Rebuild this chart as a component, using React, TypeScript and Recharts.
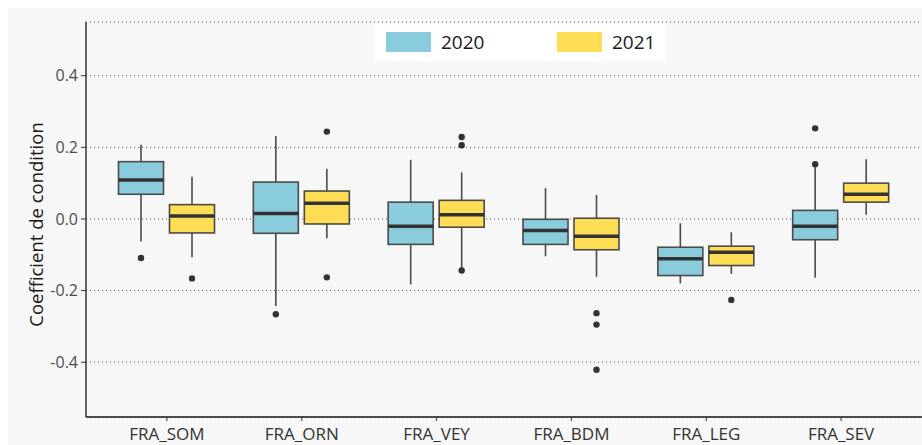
import React from 'react';
import { BarChart, Bar, XAxis, YAxis, CartesianGrid, Legend } from 'recharts';

const categories = ['FRA_SOM', 'FRA_ORN', 'FRA_VEY', 'FRA_BDM', 'FRA_LEG', 'FRA_SEV'];
const years = ['2020', '2021'];
const yTicks = [-0.4, -0.2, 0, 0.2, 0.4];

const min2020 = [-0.063, -0.243, -0.183, -0.104, -0.180, -0.164];
const q1_2020 = [0.069, -0.040, -0.071, -0.071, -0.158, -0.058];
const med2020 = [0.109, 0.015, -0.020, -0.032, -0.111, -0.020];
const q3_2020 = [0.160, 0.103, 0.047, -0.001, -0.079, 0.024];
const max2020 = [0.207, 0.232, 0.165, 0.086, -0.012, 0.150];
const out2020 = [[-0.109], [-0.266], [], [], [], [0.253, 0.153]];

const min2021 = [-0.107, -0.054, -0.138, -0.161, -0.153, 0.012];
const q1_2021 = [-0.039, -0.014, -0.023, -0.086, -0.130, 0.047];
const med2021 = [0.008, 0.044, 0.012, -0.048, -0.093, 0.069];
const q3_2021 = [0.040, 0.078, 0.052, 0.002, -0.076, 0.100];
const max2021 = [0.118, 0.140, 0.130, 0.067, -0.037, 0.167];
const out2021 = [[-0.166], [0.244, -0.163], [0.229, 0.206, -0.144], [-0.263, -0.295, -0.421], [-0.226], []];

const COLORS: Record<string, string> = { '2020': '#89CDDC', '2021': '#FFDD55' };

const data = categories.map((name, i) => ({
  name,
  r2020: [min2020[i], max2020[i]],
  s2020: { min: min2020[i], q1: q1_2020[i], med: med2020[i], q3: q3_2020[i], max: max2020[i], out: out2020[i] },
  r2021: [min2021[i], max2021[i]],
  s2021: { min: min2021[i], q1: q1_2021[i], med: med2021[i], q3: q3_2021[i], max: max2021[i], out: out2021[i] },
}));

const makeShape = (year: string) => (props: any) => {
  const { x, y, width, height, payload } = props;
  const s = payload[`s${year}`];
  const span = s.max - s.min;
  const py = (v: number) => y + ((s.max - v) / span) * height;
  const cx = x + width / 2;
  return (
    <g>
      <line x1={cx} x2={cx} y1={py(s.max)} y2={py(s.q3)} stroke="#4a4a4a" strokeWidth={1.6} />
      <line x1={cx} x2={cx} y1={py(s.q1)} y2={py(s.min)} stroke="#4a4a4a" strokeWidth={1.6} />
      <rect x={x} y={py(s.q3)} width={width} height={py(s.q1) - py(s.q3)} fill={COLORS[year]} stroke="#4a4a4a" strokeWidth={1.6} />
      <line x1={x} x2={x + width} y1={py(s.med)} y2={py(s.med)} stroke="#333333" strokeWidth={3.5} />
      {s.out.map((o: number, k: number) => (
        <circle key={k} cx={cx} cy={py(o)} r={3.2} fill="#333333" />
      ))}
    </g>
  );
};

const LegendContent = () => (
  <div style={{ position: 'relative', width: 292, height: 38, background: '#ffffff', fontFamily: 'Open Sans', fontSize: 19, color: '#1a1a1a' }}>
    {years.map((yr, i) => (
      <React.Fragment key={yr}>
        <div style={{ position: 'absolute', left: 12 + i * 171, top: 9, width: 45, height: 20, background: COLORS[yr] }} />
        <div style={{ position: 'absolute', left: 67 + i * 171, top: 5, lineHeight: '28px' }}>{yr}</div>
      </React.Fragment>
    ))}
  </div>
);

const YLabel = (props: any) => {
  const vb = props.viewBox || {};
  const cx = 35 - 8;
  const cy = vb.y + vb.height / 2 + 5;
  return (
    <text x={cx} y={cy} transform={`rotate(-90, ${cx}, ${cy})`} textAnchor="middle" dominantBaseline="central" fontFamily="Open Sans" fontSize={18.5} fill="#1a1a1a">
      Coefficient de condition
    </text>
  );
};

export default function App() {
  return (
    <div style={{ position: 'fixed', left: 8, top: 8, width: 914, height: 437, background: '#F7F7F7' }}>
      <BarChart width={914} height={437} data={data} margin={{ top: 14, right: 0, bottom: 0, left: 0 }} barSize={45} barGap={6}>
        <CartesianGrid vertical={false} stroke="#555555" strokeDasharray="1 3" />
        <XAxis
          dataKey="name"
          height={28}
          interval={0}
          padding={{ left: 13.5, right: 13.5 }}
          tickSize={4}
          tickMargin={7}
          stroke="#1a1a1a"
          axisLine={{ stroke: '#1a1a1a', strokeWidth: 1.3 }}
          tickLine={{ stroke: '#333333' }}
          tick={{ fontFamily: 'Open Sans', fontSize: 17, fill: '#333333' }}
        />
        <YAxis
          type="number"
          domain={[-0.553, 0.55]}
          allowDataOverflow
          ticks={yTicks}
          width={78}
          tickSize={5}
          tickMargin={3}
          tickFormatter={(v: number) => v.toFixed(1)}
          axisLine={{ stroke: '#1a1a1a', strokeWidth: 1.3 }}
          tickLine={{ stroke: '#333333' }}
          tick={{ fontFamily: 'Open Sans', fontSize: 16, fill: '#4d4d4d' }}
          label={<YLabel />}
        />
        <Legend layout="horizontal" verticalAlign="middle" align="center" wrapperStyle={{ left: 366, top: 15, width: 292, height: 38 }} content={<LegendContent />} />
        {years.map((yr) => (
          <Bar key={yr} dataKey={`r${yr}`} fill={COLORS[yr]} shape={makeShape(yr)} isAnimationActive={false} />
        ))}
      </BarChart>
    </div>
  );
}
